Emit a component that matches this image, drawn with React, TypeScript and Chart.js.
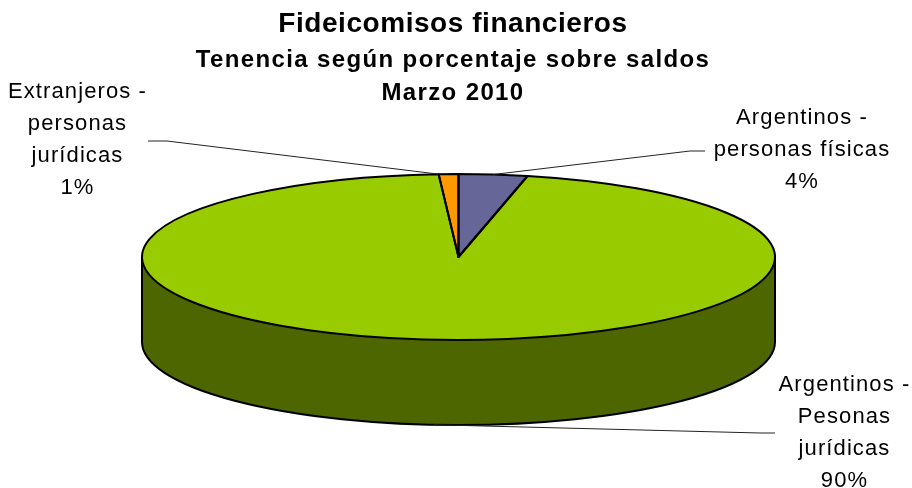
import React, { useEffect, useRef } from "react";
import { Chart, registerables } from "chart.js";

Chart.register(...registerables);

const categories = ["Argentinos - personas físicas", "Argentinos - Pesonas jurídicas", "Extranjeros - personas jurídicas"];
const drawnValues = [3.5, 95.5, 1];
const sliceColors = ["#666699", "#99CC00", "#FF9900"];
const sideColors = ["#333366", "#4D6600", "#804C00"];
const labelLines = [
  ["Argentinos -", "personas físicas", "4%"],
  ["Argentinos -", "Pesonas", "jurídicas", "90%"],
  ["Extranjeros -", "personas", "jurídicas", "1%"],
];
const labelCenters = [
  { x: 802, y: 118 },
  { x: 844.5, y: 385 },
  { x: 77.5, y: 92 },
];
const leaderElbows = [
  [{ x: 690, y: 151 }, { x: 705, y: 151 }],
  [{ x: 760, y: 433 }, { x: 775, y: 433 }],
  [{ x: 167, y: 141 }, { x: 148, y: 141 }],
];
const leaderAnchors = [0.5, 0.5, 0];
const titleText = "Fideicomisos financieros";
const subtitleLines = ["Tenencia según porcentaje sobre saldos", "Marzo 2010"];

const FONT = "'Liberation Sans', Arial, sans-serif";
const PIE = { x: 458.5, y: 257, rx: 316.5, ry: 83, depth: 85 };

const pie3d = {
  id: "pie3d",
  afterLayout(chart: any) {
    chart.boxes.forEach((box: any) => {
      if (box.options?.text === undefined || box.__spaced) return;
      const spacing = box.options.text === titleText ? "0.55px" : "1.37px";
      const draw = box.draw;
      box.draw = function (...args: any[]) {
        chart.ctx.letterSpacing = spacing;
        draw.apply(box, args);
        chart.ctx.letterSpacing = "0px";
      };
      box.__spaced = true;
    });
  },
  beforeDatasetsDraw(chart: any) {
    const ctx = chart.ctx;
    const arcs = chart.getDatasetMeta(0).data;
    // extruded wall, only the front half of the ellipse is visible
    arcs.forEach((a: any, i: number) => {
      const s = a.startAngle, e = a.endAngle;
      for (const off of [0, Math.PI * 2]) {
        const from = Math.max(s - off, 0);
        const to = Math.min(e - off, Math.PI);
        if (to <= from) continue;
        ctx.beginPath();
        ctx.ellipse(PIE.x, PIE.y, PIE.rx, PIE.ry, 0, from, to);
        ctx.ellipse(PIE.x, PIE.y + PIE.depth, PIE.rx, PIE.ry, 0, to, from, true);
        ctx.closePath();
        ctx.fillStyle = sideColors[i];
        ctx.fill();
      }
    });
    ctx.beginPath();
    ctx.moveTo(PIE.x - PIE.rx, PIE.y);
    ctx.lineTo(PIE.x - PIE.rx, PIE.y + PIE.depth);
    ctx.ellipse(PIE.x, PIE.y + PIE.depth, PIE.rx, PIE.ry, 0, Math.PI, 0, true);
    ctx.lineTo(PIE.x + PIE.rx, PIE.y);
    ctx.strokeStyle = "#000";
    ctx.lineWidth = 2;
    ctx.stroke();
    const a0 = arcs[0];
    ctx.save();
    ctx.translate(PIE.x, PIE.y);
    ctx.scale(PIE.rx / a0.outerRadius, PIE.ry / a0.outerRadius);
    ctx.translate(-a0.x, -a0.y);
  },
  afterDatasetsDraw(chart: any) {
    const ctx = chart.ctx;
    ctx.restore();
    const arcs = chart.getDatasetMeta(0).data;
    ctx.strokeStyle = "#000";
    ctx.lineWidth = 2;
    ctx.lineJoin = "round";
    arcs.forEach((a: any) => {
      ctx.beginPath();
      ctx.moveTo(PIE.x, PIE.y);
      ctx.ellipse(PIE.x, PIE.y, PIE.rx, PIE.ry, 0, a.startAngle, a.endAngle);
      ctx.closePath();
      ctx.stroke();
    });
    // leader lines
    ctx.strokeStyle = "#222";
    ctx.lineWidth = 1;
    arcs.forEach((a: any, i: number) => {
      const t = a.startAngle + (a.endAngle - a.startAngle) * leaderAnchors[i];
      const front = Math.sin(t) > 0;
      const ax = PIE.x + PIE.rx * Math.cos(t);
      const ay = PIE.y + PIE.ry * Math.sin(t) + (front ? PIE.depth : 0);
      ctx.beginPath();
      ctx.moveTo(ax, ay);
      leaderElbows[i].forEach((p) => ctx.lineTo(p.x, p.y));
      ctx.stroke();
    });
    // slice labels
    ctx.fillStyle = "#000";
    ctx.font = `22px ${FONT}`;
    ctx.letterSpacing = "1.1px";
    ctx.textAlign = "center";
    ctx.textBaseline = "middle";
    labelLines.forEach((lines, i) => {
      lines.forEach((line, j) => {
        ctx.fillText(line, labelCenters[i].x, labelCenters[i].y + j * 32);
      });
    });
    ctx.letterSpacing = "0px";
  },
};

export default function App() {
  const ref = useRef<HTMLCanvasElement>(null);
  useEffect(() => {
    const chart = new Chart(ref.current!, {
      type: "pie",
      data: {
        labels: categories,
        datasets: [
          {
            data: drawnValues,
            backgroundColor: sliceColors,
            borderWidth: 0,
            clip: false,
          } as any,
        ],
      },
      options: {
        responsive: false,
        animation: false,
        layout: { padding: { top: 0, right: 6 } },
        plugins: {
          legend: { display: false },
          tooltip: { enabled: false },
          title: {
            display: true,
            text: titleText,
            color: "#000",
            font: { family: FONT, size: 28, weight: "bold", lineHeight: 1.2 },
            padding: { top: 7, bottom: 3 },
          },
          subtitle: {
            display: true,
            text: subtitleLines,
            color: "#000",
            font: { family: FONT, size: 24, weight: "bold", lineHeight: 1.375 },
            padding: { top: 0, bottom: 0 },
          },
        },
      },
      plugins: [pie3d],
    } as any);
    return () => chart.destroy();
  }, []);
  return (
    <div style={{ position: "fixed", left: 0, top: 0, width: 912, height: 488, background: "#fff" }}>
      <canvas ref={ref} width={912} height={488} style={{ display: "block" }} />
    </div>
  );
}
